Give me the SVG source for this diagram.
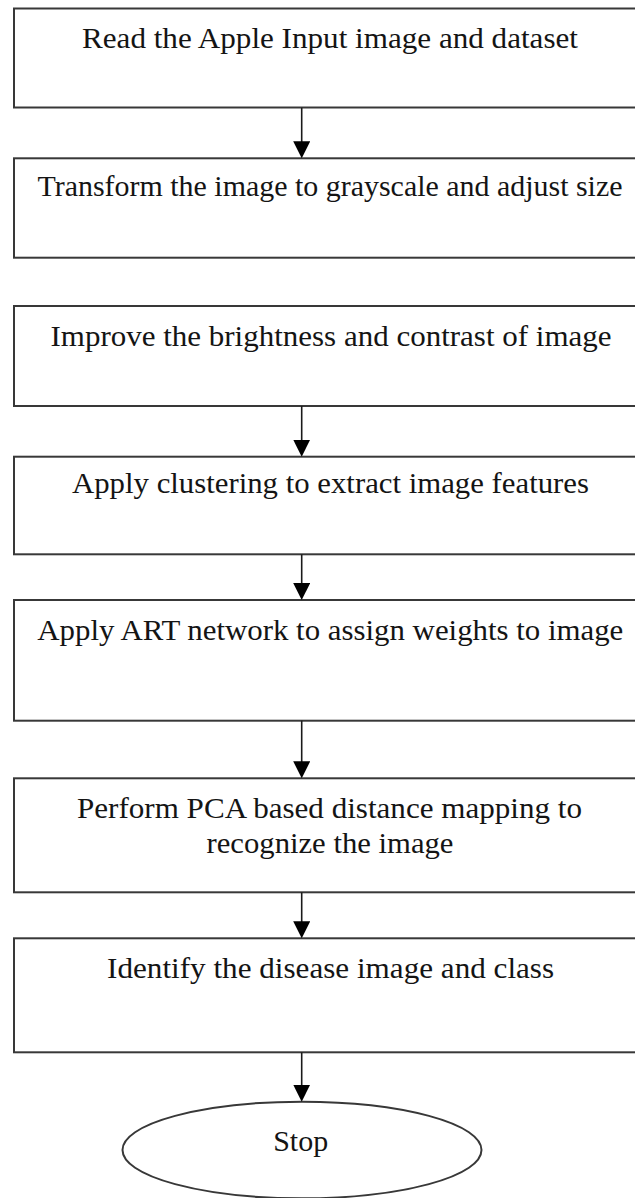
<svg xmlns="http://www.w3.org/2000/svg" width="635" height="1198" viewBox="0 0 635 1198">
  <style>
    .box { fill: #ffffff; stroke: #383838; stroke-width: 2; }
    .lbl { font-family: "Liberation Serif", "Times New Roman", serif; font-size: 30px; fill: #141414; text-anchor: middle; }
    .edge { stroke: #1a1a1a; stroke-width: 1.6; fill: none; marker-end: url(#arrow); }
  </style>
  <defs>
    <marker id="arrow" markerUnits="userSpaceOnUse" markerWidth="17" markerHeight="17" refX="13" refY="8.5" orient="auto">
      <path d="M0,0 L17,8.5 L0,17 z" fill="#000000"/>
    </marker>
  </defs>
  <rect width="635" height="1198" fill="#ffffff"/>

  <!-- process steps -->
  <g id="read-input">
    <rect class="box" x="14" y="8.5" width="632" height="99"/>
    <text class="lbl" x="330" y="48" textLength="496" lengthAdjust="spacingAndGlyphs">Read the Apple Input image and dataset</text>
  </g>
  <g id="grayscale">
    <rect class="box" x="14" y="158.3" width="632" height="99.4"/>
    <text class="lbl" x="330" y="196" textLength="585" lengthAdjust="spacingAndGlyphs">Transform the image to grayscale and adjust size</text>
  </g>
  <g id="enhance">
    <rect class="box" x="14" y="306" width="632" height="100"/>
    <text class="lbl" x="331" y="346" textLength="561" lengthAdjust="spacingAndGlyphs">Improve the brightness and contrast of image</text>
  </g>
  <g id="clustering">
    <rect class="box" x="14" y="456.7" width="632" height="97.6"/>
    <text class="lbl" x="330.5" y="492.7" textLength="517" lengthAdjust="spacingAndGlyphs">Apply clustering to extract image features</text>
  </g>
  <g id="art-network">
    <rect class="box" x="14" y="600" width="632" height="120.7"/>
    <text class="lbl" x="330.3" y="640" textLength="586" lengthAdjust="spacingAndGlyphs">Apply ART network to assign weights to image</text>
  </g>
  <g id="pca-mapping">
    <rect class="box" x="14" y="778.3" width="632" height="114"/>
    <text class="lbl" x="329.5" y="817.7" textLength="505" lengthAdjust="spacingAndGlyphs">Perform PCA based distance mapping to</text>
    <text class="lbl" x="330" y="852.7" textLength="247" lengthAdjust="spacingAndGlyphs">recognize the image</text>
  </g>
  <g id="identify">
    <rect class="box" x="14" y="938.3" width="632" height="114"/>
    <text class="lbl" x="330.6" y="977.7" textLength="447" lengthAdjust="spacingAndGlyphs">Identify the disease image and class</text>
  </g>
  <g id="stop">
    <ellipse class="box" cx="302" cy="1150" rx="179.5" ry="48.3"/>
    <text class="lbl" x="300.7" y="1151" textLength="55" lengthAdjust="spacingAndGlyphs">Stop</text>
  </g>

  <!-- connectors -->
  <g id="connectors">
    <line class="edge" x1="301.7" y1="107.7" x2="301.7" y2="154.3"/>
    <line class="edge" x1="301.7" y1="406" x2="301.7" y2="452.7"/>
    <line class="edge" x1="301.7" y1="554.3" x2="301.7" y2="596"/>
    <line class="edge" x1="301.7" y1="720.7" x2="301.7" y2="774.3"/>
    <line class="edge" x1="301.7" y1="892.3" x2="301.7" y2="934.3"/>
    <line class="edge" x1="301.7" y1="1052.3" x2="301.7" y2="1097.7"/>
  </g>
</svg>
